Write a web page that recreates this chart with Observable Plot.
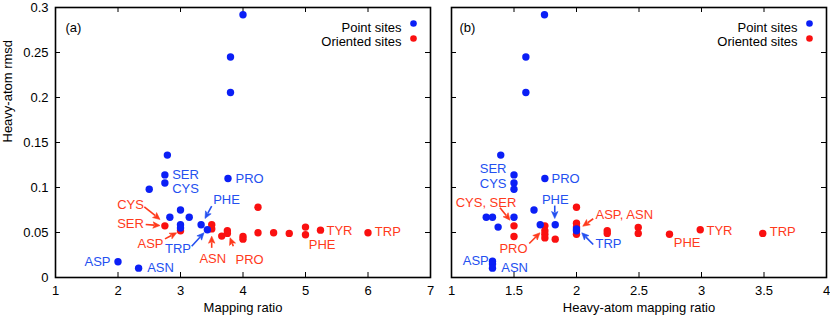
<!DOCTYPE html>
<html><head><meta charset="utf-8">
<script src="https://cdn.jsdelivr.net/npm/d3@7"></script>
<script src="https://cdn.jsdelivr.net/npm/@observablehq/plot@0.6"></script>
<style>
body{margin:0;background:#fff;}
#chart{display:flex;width:830px;height:320px;}
svg{font-family:"Liberation Sans",Arial,sans-serif;}
</style></head><body><div id="chart"></div>
<script>
// ---- tick values ----
const xTicksA = [1, 2, 3, 4, 5, 6, 7];
const xTicksB = [1, 1.5, 2, 2.5, 3, 3.5, 4];
const yTicks = [0, 0.05, 0.1, 0.15, 0.2, 0.25, 0.3];

// ---- panel (a): mapping ratio vs heavy-atom rmsd ----
const pointXA = [2.0, 2.33, 2.5, 2.75, 2.75, 2.79, 2.83, 3.0, 3.0, 3.0, 3.14, 3.33, 3.43, 3.76, 3.8, 3.8, 4.0];
const pointYA = [0.0175, 0.0104, 0.098, 0.114, 0.105, 0.136, 0.067, 0.075, 0.0586, 0.055, 0.067, 0.0586, 0.053, 0.11, 0.245, 0.2056, 0.292];
const orientXA = [2.75, 3.0, 3.5, 3.5, 3.66, 3.75, 3.75, 4.0, 4.0, 4.24, 4.24, 4.49, 4.74, 5.0, 5.0, 5.24, 6.0];
const orientYA = [0.0574, 0.052, 0.0586, 0.054, 0.046, 0.052, 0.049, 0.0456, 0.0426, 0.078, 0.0497, 0.0497, 0.049, 0.056, 0.0475, 0.0526, 0.0497];

// ---- panel (b): heavy-atom mapping ratio vs heavy-atom rmsd ----
const pointXB = [1.328, 1.328, 1.328, 1.278, 1.328, 1.373, 1.394, 1.5, 1.5, 1.5, 1.5, 1.66, 1.71, 1.747, 1.83, 2.0, 2.0, 1.595, 1.595, 1.744];
const pointYB = [0.018, 0.0149, 0.0104, 0.067, 0.067, 0.056, 0.136, 0.114, 0.105, 0.098, 0.067, 0.075, 0.0586, 0.11, 0.0586, 0.054, 0.052, 0.245, 0.2056, 0.292];
const orientXB = [1.5, 1.5, 1.747, 1.747, 1.747, 1.747, 1.83, 2.0, 2.0, 2.0, 2.0, 2.246, 2.246, 2.494, 2.494, 2.744, 2.99, 3.49];
const orientYB = [0.0574, 0.0456, 0.0574, 0.052, 0.048, 0.044, 0.0426, 0.078, 0.0604, 0.056, 0.048, 0.052, 0.049, 0.0556, 0.049, 0.048, 0.053, 0.049];

const seriesNames = ["Point sites", "Oriented sites"];

// ---- annotations (data coordinates) ----
const blueLabelsA = [
  {t: "SER", x: 2.867, y: 0.1139, a: "start"},
  {t: "CYS", x: 2.867, y: 0.098, a: "start"},
  {t: "PRO", x: 3.88, y: 0.1098, a: "start"},
  {t: "PHE", x: 3.736, y: 0.0861, a: "middle"},
  {t: "TRP", x: 2.96, y: 0.0317, a: "middle"},
  {t: "ASP", x: 1.88, y: 0.0172, a: "end"},
  {t: "ASN", x: 2.467, y: 0.0102, a: "start"}
];
const redLabelsA = [
  {t: "CYS", x: 2.2, y: 0.0813, a: "middle"},
  {t: "SER", x: 2.2, y: 0.0591, a: "middle"},
  {t: "ASP", x: 2.52, y: 0.0372, a: "middle"},
  {t: "ASN", x: 3.517, y: 0.0213, a: "middle"},
  {t: "PRO", x: 3.88, y: 0.02, a: "start"},
  {t: "TYR", x: 5.336, y: 0.0517, a: "start"},
  {t: "TRP", x: 6.109, y: 0.0502, a: "start"},
  {t: "PHE", x: 5.053, y: 0.0361, a: "start"}
];
const blueArrowsA = [
  {x1: 3.187, y1: 0.0342, x2: 3.384, y2: 0.0491},
  {x1: 3.507, y1: 0.0787, x2: 3.4, y2: 0.065}
];
const redArrowsA = [
  {x1: 2.429, y1: 0.078, x2: 2.68, y2: 0.0639},
  {x1: 2.451, y1: 0.0583, x2: 2.68, y2: 0.0572},
  {x1: 2.76, y1: 0.0424, x2: 2.947, y2: 0.0491},
  {x1: 3.507, y1: 0.0324, x2: 3.507, y2: 0.0453},
  {x1: 3.853, y1: 0.0342, x2: 3.8, y2: 0.0436}
];
const blueLabelsB = [
  {t: "SER", x: 1.44, y: 0.1203, a: "end"},
  {t: "CYS", x: 1.44, y: 0.1038, a: "end"},
  {t: "PRO", x: 1.8, y: 0.1091, a: "start"},
  {t: "PHE", x: 1.83, y: 0.0861, a: "middle"},
  {t: "TRP", x: 2.152, y: 0.0372, a: "start"},
  {t: "ASP", x: 1.298, y: 0.0187, a: "end"},
  {t: "ASN", x: 1.398, y: 0.0102, a: "start"}
];
const redLabelsB = [
  {t: "CYS, SER", x: 1.276, y: 0.0831, a: "middle"},
  {t: "PRO", x: 1.496, y: 0.0324, a: "middle"},
  {t: "ASP, ASN", x: 2.152, y: 0.0694, a: "start"},
  {t: "PHE", x: 2.778, y: 0.038, a: "start"},
  {t: "TYR", x: 3.04, y: 0.0517, a: "start"},
  {t: "TRP", x: 3.546, y: 0.0506, a: "start"}
];
const blueArrowsB = [
  {x1: 1.83, y1: 0.0794, x2: 1.83, y2: 0.065},
  {x1: 2.138, y1: 0.0361, x2: 2.046, y2: 0.0491}
];
const redArrowsB = [
  {x1: 1.392, y1: 0.0769, x2: 1.472, y2: 0.0631},
  {x1: 1.626, y1: 0.0372, x2: 1.712, y2: 0.0491},
  {x1: 2.138, y1: 0.0647, x2: 2.054, y2: 0.0564}
];

const BLUE = "#0b1ff6", BLUE_T = "#2450f0", RED = "#fa1010", RED_T = "#ff3a1c";
const FONT = 13;

function toRows(xs, ys) { return xs.map((x, i) => ({x, y: ys[i]})); }

// arrows with filled (gnuplot-like) heads, positioned through the plot's scales
function filledArrows(data, color) {
  return (index, scales) => {
    const g = d3.create("svg:g");
    const L = 7, Wd = 3.2;
    for (const d of data) {
      const X1 = scales.x(d.x1), Y1 = scales.y(d.y1), X2 = scales.x(d.x2), Y2 = scales.y(d.y2);
      const len = Math.hypot(X2 - X1, Y2 - Y1);
      const ux = (X2 - X1) / len, uy = (Y2 - Y1) / len;
      const bx = X2 - ux * L, by = Y2 - uy * L;
      g.append("line").attr("x1", X1).attr("y1", Y1).attr("x2", bx + ux).attr("y2", by + uy)
        .attr("stroke", color).attr("stroke-width", 1.6);
      g.append("path")
        .attr("d", `M${X2},${Y2}L${bx - uy * Wd},${by + ux * Wd}L${bx + ux * 1.5},${by + uy * 1.5}L${bx + uy * Wd},${by - ux * Wd}Z`)
        .attr("fill", color).attr("stroke", color).attr("stroke-width", 0.6).attr("stroke-linejoin", "round");
    }
    return g.node();
  };
}

function panel(o) {
  const W = o.width - o.marginLeft - o.marginRight;
  const H = 320 - 7 - 43;
  const T = 5;
  const marks = [
    Plot.ruleX(o.xTicks, {insetTop: H - T, stroke: "black"}),
    Plot.ruleX(o.xTicks, {insetBottom: H - T, stroke: "black"}),
    Plot.ruleY(yTicks, {insetRight: W - T, stroke: "black"}),
    Plot.ruleY(yTicks, {insetLeft: W - T, stroke: "black"}),
    Plot.frame({stroke: "black", strokeWidth: 1.6}),
    Plot.dot(toRows(o.ox, o.oy), {x: "x", y: "y", r: 3.7, fill: RED}),
    Plot.dot(toRows(o.px, o.py), {x: "x", y: "y", r: 3.7, fill: BLUE}),
    filledArrows(o.redArrows, RED_T),
    filledArrows(o.blueArrows, BLUE_T),
    ...["start", "middle", "end"].map(a => Plot.text(o.redLabels.filter(d => d.a === a), {x: "x", y: "y", text: "t", textAnchor: a, fill: RED_T, fontSize: FONT})),
    ...["start", "middle", "end"].map(a => Plot.text(o.blueLabels.filter(d => d.a === a), {x: "x", y: "y", text: "t", textAnchor: a, fill: BLUE_T, fontSize: FONT})),
    Plot.text([seriesNames[0]], {frameAnchor: "top-right", dx: -29, dy: 15, textAnchor: "end", fontSize: FONT, fill: "black"}),
    Plot.text([seriesNames[1]], {frameAnchor: "top-right", dx: -29, dy: 29.5, textAnchor: "end", fontSize: FONT, fill: "black"}),
    Plot.dot([0], {frameAnchor: "top-right", dx: -17, dy: 16, r: 3.3, fill: BLUE}),
    Plot.dot([0], {frameAnchor: "top-right", dx: -17, dy: 31, r: 3.3, fill: RED}),
    Plot.text([o.tag], {frameAnchor: "top-left", dx: o.tagDx, dy: 15, textAnchor: "start", fontSize: FONT, fill: "black"}),
    Plot.text([o.xLabel], {frameAnchor: "bottom", dy: 34, fontSize: FONT, fill: "black"})
  ];
  if (o.yLabel) marks.push(Plot.text([o.yLabel], {frameAnchor: "left", dx: -48, rotate: -90, fontSize: FONT, fill: "black"}));
  return Plot.plot({
    width: o.width, height: 320,
    marginLeft: o.marginLeft, marginRight: o.marginRight, marginTop: 7, marginBottom: 43,
    style: {fontSize: FONT + "px", fontFamily: "'Liberation Sans', Arial, sans-serif", background: "white", color: "black"},
    x: {domain: o.xDomain, ticks: o.xTicks, tickFormat: d => String(d), tickSize: 0, tickPadding: 8, label: null},
    y: {domain: [0, 0.3], ticks: yTicks, tickFormat: d => String(d), tickSize: 0, tickPadding: 7, label: null, axis: o.yLabel ? "left" : null},
    marks
  });
}

const chart = document.getElementById("chart");
chart.append(panel({
  width: 440, marginLeft: 55, marginRight: 10, xDomain: [1, 7], xTicks: xTicksA,
  px: pointXA, py: pointYA, ox: orientXA, oy: orientYA,
  blueLabels: blueLabelsA, redLabels: redLabelsA, blueArrows: blueArrowsA, redArrows: redArrowsA,
  tag: "(a)", tagDx: 10, xLabel: "Mapping ratio", yLabel: "Heavy-atom rmsd"
}));
chart.append(panel({
  width: 390, marginLeft: 11, marginRight: 4, xDomain: [1, 4], xTicks: xTicksB,
  px: pointXB, py: pointYB, ox: orientXB, oy: orientYB,
  blueLabels: blueLabelsB, redLabels: redLabelsB, blueArrows: blueArrowsB, redArrows: redArrowsB,
  tag: "(b)", tagDx: 8, xLabel: "Heavy-atom mapping ratio", yLabel: null
}));
</script></body></html>
